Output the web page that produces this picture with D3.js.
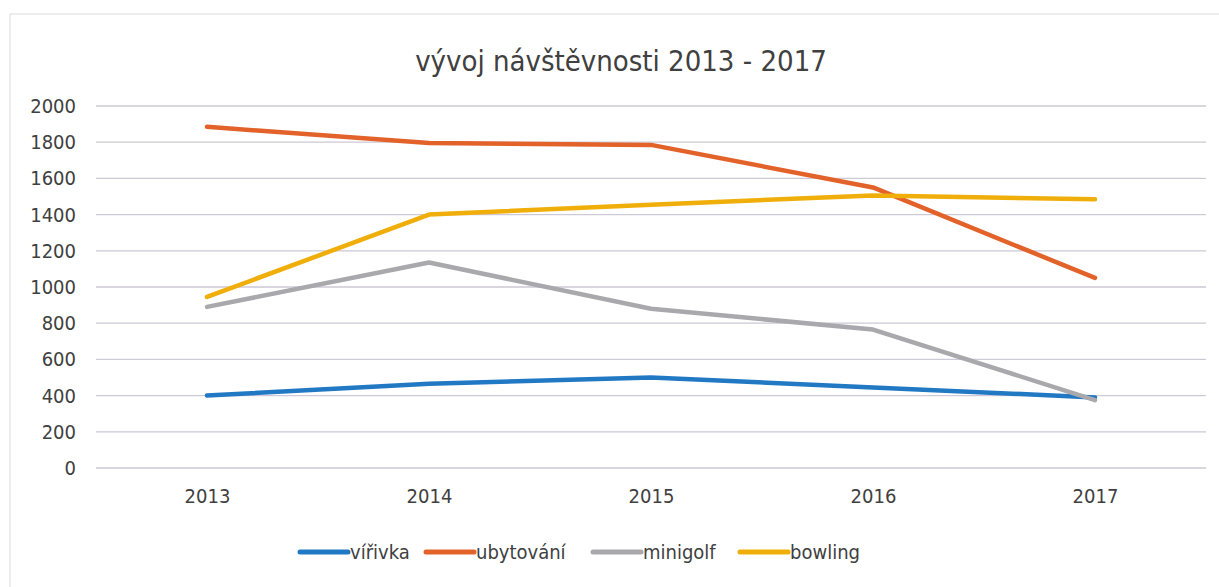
<html>
<head>
<meta charset="utf-8">
<script src="https://d3js.org/d3.v7.min.js"></script>
<style>
  body { margin: 0; background: #fff; }
  text { font-family: "Liberation Sans Narrow", "DejaVu Sans Condensed", sans-serif; fill: #404040; }
</style>
</head>
<body>
<svg width="1219" height="587"></svg>
<script>
// data
const years = ["2013", "2014", "2015", "2016", "2017"];
const virivka = [400, 465, 500, 445, 390];
const ubytovani = [1885, 1795, 1785, 1550, 1050];
const minigolf = [890, 1135, 880, 765, 375];
const bowling = [945, 1400, 1455, 1505, 1485];
const seriesNames = ["vířivka", "ubytování", "minigolf", "bowling"];
const yTicks = [0, 200, 400, 600, 800, 1000, 1200, 1400, 1600, 1800, 2000];
const title = "vývoj návštěvnosti 2013 - 2017";

const colors = ["#2179c4", "#e2622a", "#a9a8ad", "#f0ae0a"];
const series = [virivka, ubytovani, minigolf, bowling];

const svg = d3.select("svg");

// chart frame (faint)
svg.append("rect")
    .attr("x", 10).attr("y", 14)
    .attr("width", 1230).attr("height", 600)
    .attr("fill", "none")
    .attr("stroke", "#dcdcdc");

const plotL = 96, plotR = 1206, plotT = 106, plotB = 468;

const x = d3.scalePoint().domain(years).range([plotL, plotR]).padding(0.5);
const y = d3.scaleLinear().domain([0, 2000]).range([plotB, plotT]);

// gridlines
svg.append("g")
  .selectAll("line")
  .data(yTicks)
  .join("line")
    .attr("x1", plotL).attr("x2", plotR)
    .attr("y1", d => y(d)).attr("y2", d => y(d))
    .attr("stroke", "#cdc9d6")
    .attr("stroke-width", 1.3);

// y axis labels
const yAxis = d3.axisLeft(y).tickValues(yTicks).tickFormat(d3.format("d")).tickSize(0).tickPadding(0);
const gy = svg.append("g")
    .attr("transform", "translate(76,0)")
    .call(yAxis);
gy.select(".domain").remove();
gy.selectAll("text")
    .style("font-size", "20px")
    .attr("fill", "#404040");
gy.attr("font-family", null);

// x axis labels
const xAxis = d3.axisBottom(x).tickSize(0).tickPadding(0);
const gx = svg.append("g")
    .attr("transform", "translate(0,489)")
    .call(xAxis);
gx.select(".domain").remove();
gx.selectAll("text")
    .style("font-size", "20px")
    .attr("fill", "#404040");
gx.attr("font-family", null);

// lines
const line = d3.line()
    .x((d, i) => x(years[i]))
    .y(d => y(d));

svg.append("g")
  .selectAll("path")
  .data(series)
  .join("path")
    .attr("d", d => line(d))
    .attr("fill", "none")
    .attr("stroke", (d, i) => colors[i])
    .attr("stroke-width", 4.5)
    .attr("stroke-linecap", "round")
    .attr("stroke-linejoin", "round");

// title
svg.append("text")
    .attr("x", 621).attr("y", 71)
    .attr("text-anchor", "middle")
    .style("font-size", "29px")
    .text(title);

// legend
const legendX = [300, 426, 593, 740];
const lg = svg.append("g").selectAll("g")
  .data(seriesNames)
  .join("g")
    .attr("transform", (d, i) => "translate(" + legendX[i] + ",552)");
lg.append("line")
    .attr("x1", 0).attr("x2", 48)
    .attr("stroke", (d, i) => colors[i])
    .attr("stroke-width", 5)
    .attr("stroke-linecap", "round");
lg.append("text")
    .attr("x", 50).attr("y", 7)
    .style("font-size", "20px")
    .text(d => d);
</script>
</body>
</html>
